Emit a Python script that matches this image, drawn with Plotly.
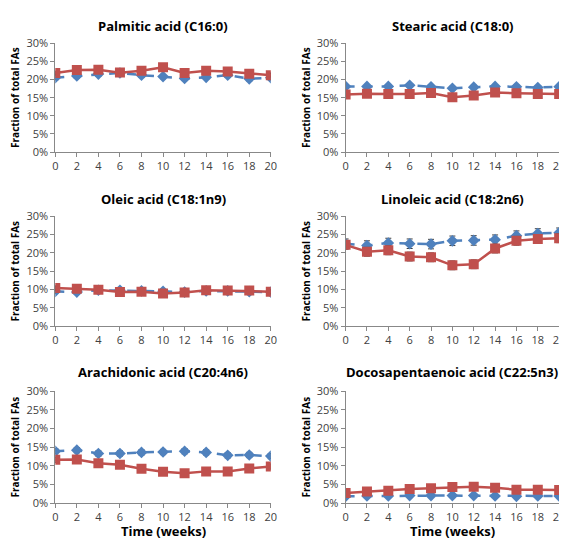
import plotly.graph_objects as go

weeks = [0, 2, 4, 6, 8, 10, 12, 14, 16, 18, 20]
titles = ["Palmitic acid (C16:0)", "Stearic acid (C18:0)", "Oleic acid (C18:1n9)",
          "Linoleic acid (C18:2n6)", "Arachidonic acid (C20:4n6)", "Docosapentaenoic acid (C22:5n3)"]
blue_vals = [
    [20.5, 21.0, 21.5, 21.8, 21.2, 20.8, 20.3, 20.6, 21.2, 20.2, 20.5],
    [18.1, 18.1, 18.1, 18.4, 18.0, 17.6, 17.9, 18.1, 18.0, 17.8, 18.0],
    [9.5, 9.3, 9.8, 9.8, 9.6, 9.5, 9.3, 9.6, 9.6, 9.4, 9.3],
    [22.5, 22.0, 22.7, 22.5, 22.4, 23.3, 23.4, 23.6, 24.7, 25.3, 25.5],
    [13.9, 14.2, 13.3, 13.3, 13.6, 13.7, 13.9, 13.6, 12.8, 12.9, 12.6],
    [1.8, 1.9, 1.9, 2.0, 2.0, 2.0, 2.0, 1.9, 1.8, 1.9, 1.9],
]
red_vals = [
    [21.8, 22.6, 22.7, 21.9, 22.4, 23.4, 21.8, 22.4, 22.2, 21.6, 21.2],
    [15.9, 16.1, 16.0, 16.0, 16.3, 15.1, 15.6, 16.4, 16.2, 16.0, 16.0],
    [10.4, 10.2, 9.9, 9.3, 9.4, 8.9, 9.2, 9.8, 9.7, 9.7, 9.4],
    [22.2, 20.3, 20.7, 19.0, 18.8, 16.6, 16.9, 21.2, 23.3, 23.8, 24.0],
    [11.6, 11.7, 10.7, 10.3, 9.2, 8.4, 8.0, 8.5, 8.5, 9.3, 9.8],
    [2.7, 3.1, 3.3, 3.8, 4.0, 4.3, 4.4, 4.1, 3.6, 3.6, 3.5],
]
err_blue = [0.6, 0.5, 0.6, 1.3, 0.7, 0.3]
err_red = [0.5, 0.5, 0.6, 1.2, 0.7, 0.3]
yticks = [0, 5, 10, 15, 20, 25, 30]
ytick_labels = ["0%", "5%", "10%", "15%", "20%", "25%", "30%"]

W, H = 567, 539
xdom = [(45 / W, 264 / W), (340 / W, 557 / W)]
rows_px = [(28, 140), (206, 319), (386, 501)]
title_px = [10, 188, 366]

fig = go.Figure()
annotations = []
font = "Open Sans, Liberation Sans, sans-serif"
for i in range(6):
    r, c = divmod(i, 2)
    n = i + 1
    xa = "x" if n == 1 else f"x{n}"
    ya = "y" if n == 1 else f"y{n}"
    fig.add_trace(go.Scatter(x=weeks, y=blue_vals[i], xaxis=xa, yaxis=ya, mode="lines+markers",
                             line=dict(color="#4F81BD", width=2.5, dash="dash"),
                             marker=dict(symbol="diamond", size=9, color="#4F81BD"),
                             error_y=dict(type="constant", value=err_blue[i], color="#404040", thickness=1, width=3),
                             showlegend=False))
    fig.add_trace(go.Scatter(x=weeks, y=red_vals[i], xaxis=xa, yaxis=ya, mode="lines+markers",
                             line=dict(color="#C0504D", width=2.5),
                             marker=dict(symbol="square", size=10, color="#C0504D"),
                             error_y=dict(type="constant", value=err_red[i], color="#404040", thickness=1, width=3),
                             showlegend=False))
    top, bot = rows_px[r]
    yd = (1 - bot / H, 1 - top / H)
    axk = "xaxis" if n == 1 else f"xaxis{n}"
    ayk = "yaxis" if n == 1 else f"yaxis{n}"
    fig.layout[axk] = dict(domain=xdom[c], anchor=ya, range=[0, 20], tickvals=weeks, ticks="outside",
                           ticklen=4, tickcolor="#888", showline=True, linecolor="#888", showgrid=False,
                           zeroline=False, tickfont=dict(size=11, color="#404040", family=font))
    fig.layout[ayk] = dict(domain=yd, anchor=xa, range=[0, 30], tickvals=yticks, ticktext=ytick_labels,
                           ticks="outside", ticklen=4, tickcolor="#888", showline=True, linecolor="#888",
                           showgrid=False, zeroline=False, tickfont=dict(size=11, color="#404040", family=font),
                           title=dict(text="<b>Fraction of total FAs</b>", font=dict(size=10, color="black", family=font), standoff=4))
    annotations.append(dict(text=f"<b>{titles[i]}</b>", x=(xdom[c][0] + xdom[c][1]) / 2, y=1 - title_px[r] / H,
                            xref="paper", yref="paper", showarrow=False, xanchor="center", yanchor="middle",
                            font=dict(size=13, color="black", family=font)))
for c in range(2):
    annotations.append(dict(text="<b>Time (weeks)</b>", x=(xdom[c][0] + xdom[c][1]) / 2, y=1 - 530 / H,
                            xref="paper", yref="paper", showarrow=False, xanchor="center", yanchor="middle",
                            font=dict(size=13, color="black", family=font)))

fig.update_layout(width=W, height=H, margin=dict(l=0, r=0, t=0, b=0), plot_bgcolor="white",
                  paper_bgcolor="white", annotations=annotations)
fig.write_html("out.html")
